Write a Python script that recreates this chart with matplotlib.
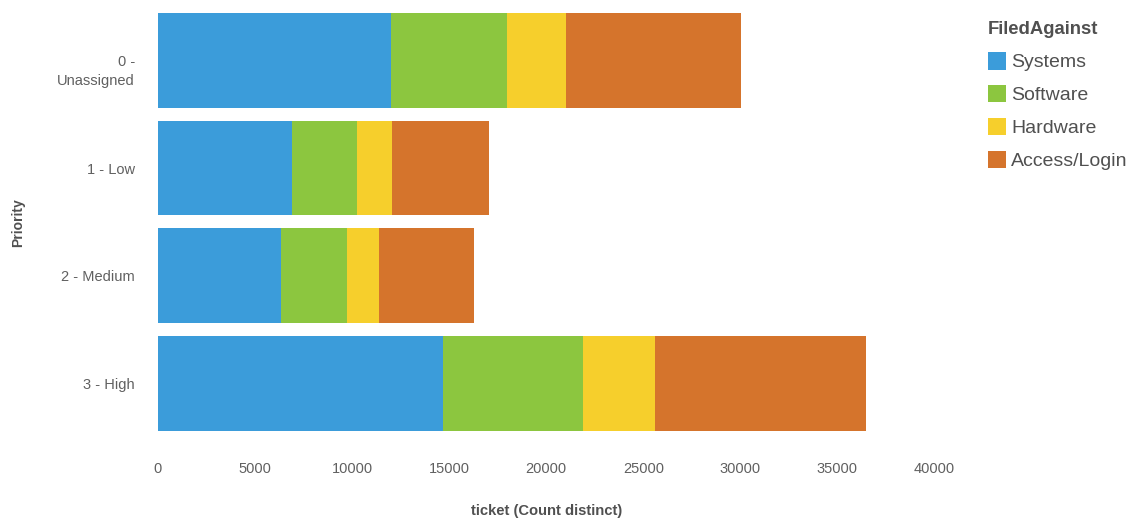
import matplotlib
matplotlib.use("Agg")
import matplotlib.pyplot as plt
from matplotlib.patches import Patch
from matplotlib.transforms import ScaledTranslation

plt.rcParams['font.family'] = ['Liberation Sans', 'DejaVu Sans']

priorities = ["0 -\nUnassigned", "1 - Low", "2 - Medium", "3 - High"]
categories = ["Systems", "Software", "Hardware", "Access/Login"]
systems = [12000, 6900, 6340, 14680]
software = [6000, 3350, 3400, 7230]
hardware = [3000, 1790, 1630, 3670]
access_login = [9050, 5030, 4890, 10880]
colors = ["#3b9cda", "#8cc63f", "#f6cf2c", "#d5742c"]
x_ticks = [0, 5000, 10000, 15000, 20000, 25000, 30000, 35000, 40000]

W, H = 1132, 519
fig = plt.figure(figsize=(W / 100, H / 100), dpi=100)
ax = fig.add_axes([158 / W, 1 - 437.2 / H, (934.5 - 158) / W, (437.2 - 6.7) / H])

series = [systems, software, hardware, access_login]
ypos = list(range(len(priorities)))
left = [0] * len(priorities)
for vals, col, name in zip(series, colors, categories):
    ax.barh(ypos, vals, left=left, height=0.88, color=col, label=name, linewidth=0)
    left = [a + b for a, b in zip(left, vals)]

ax.set_xlim(0, 40000)
ax.set_ylim(3.5, -0.5)
ax.set_yticks(ypos)

# single-line labels go on the ticks; wrapped labels are placed by hand,
# slightly below the bar centre, right-aligned line by line
YPAD = 16.5
ax.set_yticklabels([p if "\n" not in p else "" for p in priorities],
                   fontsize=10.5, color="#606060")
for y, p in zip(ypos, priorities):
    if "\n" in p:
        tr = ax.get_yaxis_transform() + ScaledTranslation(
            -YPAD / 72, -7 / 100, fig.dpi_scale_trans)
        ax.text(0, y, p, transform=tr, ha="right", va="center_baseline",
                multialignment="right", linespacing=1.45,
                fontsize=10.5, color="#606060")

ax.set_xticks(x_ticks)
ax.set_xticklabels([str(t) for t in x_ticks], fontsize=10.5, color="#606060")
ax.tick_params(axis="both", length=0)
ax.tick_params(axis="x", pad=18)
ax.tick_params(axis="y", pad=YPAD)
for s in ax.spines.values():
    s.set_visible(False)

fig.text(547 / W, 1 - 511 / H, "ticket (Count distinct)", ha="center", va="center",
         fontsize=10.6, fontweight="bold", color="#505050")
fig.text(18 / W, 1 - 223 / H, "Priority", ha="center", va="center", rotation=90,
         fontsize=10, fontweight="bold", color="#505050")

handles = [Patch(facecolor=c, edgecolor="none") for c in colors]
leg = fig.legend(handles, categories, title="FiledAgainst", loc="upper left",
                 bbox_to_anchor=(970 / W, 1 - 4 / H), frameon=False,
                 fontsize=14, title_fontsize=13.3, handlelength=0.93,
                 handleheight=1.0, handletextpad=0.3, labelspacing=0.7,
                 alignment="left", labelcolor="#505050")
leg.get_title().set_fontweight("bold")
leg.get_title().set_color("#505050")

fig.savefig("out.png", dpi=100, facecolor="white")
